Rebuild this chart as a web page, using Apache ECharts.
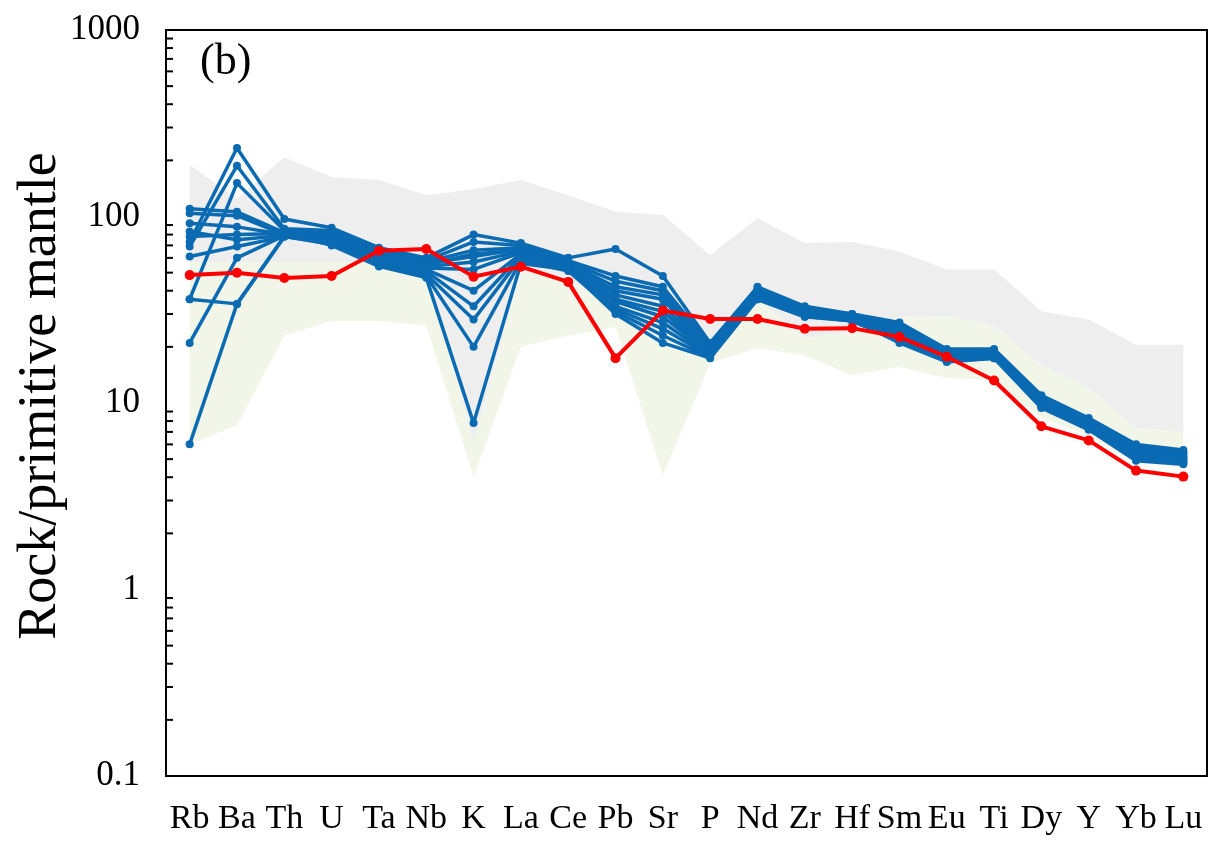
<!DOCTYPE html>
<html>
<head>
<meta charset="utf-8">
<script src="https://cdn.jsdelivr.net/npm/echarts@6/dist/echarts.min.js"></script>
<style>
html,body{margin:0;padding:0;background:#fff;}
#chart{width:1211px;height:844px;}
</style>
</head>
<body>
<div id="chart"></div>
<script>
const categories = ['Rb','Ba','Th','U','Ta','Nb','K','La','Ce','Pb','Sr','P','Nd','Zr','Hf','Sm','Eu','Ti','Dy','Y','Yb','Lu'];
const yTickValues = [0.1, 1, 10, 100, 1000];
const yTickLabels = ['0.1', '1', '10', '100', '1000'];
const yAxisTitle = 'Rock/primitive mantle';
const panelLabel = '(b)';
const minorTickValues = [0.2,0.3,0.4,0.5,0.6,0.7,0.8,0.9, 2,3,4,5,6,7,8,9, 20,30,40,50,60,70,80,90, 200,300,400,500,600,700,800,900];

// reference fields (envelopes)
const grayUpper = [189,125,208,163,157,130,140,157,130,106,102,62,98,72,73,65,52,52,31,28,20.5,20.5];
const grayLower = [57,57,57,57,57,55,6.1,51.6,45,38,24.5,19,36,22.3,24,29,29.4,26,16,12,7.4,7.0];
const greenUpper = [57,57,57,57,57,55,6.1,51.6,45,38,24.5,19,36,22.3,24,29,29.4,26,16,12,7.4,7.0];
const greenLower = [6.0,7.6,23,27.5,27.5,26,4.0,20,23,25.6,4.1,16.4,19.7,18,14.1,15.6,13.6,13.3,8.3,6.7,4.8,4.5];

// blue samples
const s1  = [73,233,97,87,68,60,80,72,60,67,48,21,42,33,30,27,19.5,19.5,11,8.3,6.0,5.6];
const s2  = [69,187,86,84,66,58,73,70,58,48,42,20.5,41,32,30,26,19,19,10.8,8.1,5.9,5.5];
const s3  = [36,151,84,82,64,57,66,68,57,45,40,20,40,32,29.5,25.5,18.5,19,10.6,8.0,5.8,5.4];
const s4  = [110,106,82,80,63,56,61,67,56,42,38,19.5,40,31,29,25,18.2,18.8,10.4,7.9,5.7,5.3];
const s5  = [104,101,80,78,62,55,63,66,55,40,36,19,39,31,29,24.5,18,18.5,10.2,7.8,5.6,5.2];
const s6  = [92,88,80,77,61,54,57,65,55,38,33,19,39,30.5,28.5,24,17.8,18.3,10.1,7.7,5.5,5.1];
const s7  = [83,75,79,76,60,53,52,64,54,36,31,18.5,38,30,28.5,23.5,17.5,18,10,7.6,5.4,5.1];
const s8  = [61,69,78,75,60,52,40,63,53,35,29,18.5,38,30,28,23,17.3,17.8,9.9,7.5,5.3,5.0];
const s9  = [21,60,79,74,58,51,33,62,53,33,27,18,37,29.5,28,22.5,17,17.6,9.7,7.4,5.2,4.9];
const s10 = [6,34,78,72,56,49,28,60,52,32,25,17.8,37,29.5,27.5,22,17,17.5,9.6,7.3,5.1,4.8];
const s11 = [36,34,78,71,55,48,20,58,51,31,23,17.5,36,29,27.5,21.5,16.8,17.4,9.5,7.2,5.0,4.8];
const s12 = [78,80,81,70,54,47,7.8,56,52,30,21,17.4,36,29,28,21,16.6,17.4,9.4,7.2,4.9,4.7];
const blueSamples = [s1,s2,s3,s4,s5,s6,s7,s8,s9,s10,s11,s12];

// red sample
const redSample = [48.5,50,46.8,48,65.6,67,47.6,53.8,44.6,17.4,31.3,28.2,28.2,25,25.2,22.6,17.7,13.2,7.5,6.3,4.34,4.03];

const FONT = '"Liberation Serif", "Times New Roman", serif';

function fieldSeries(upper, lower, color) {
  return {
    type: 'custom',
    silent: true,
    z: 1,
    data: [0],
    renderItem: function (params, api) {
      const pts = [];
      for (let i = 0; i < upper.length; i++) pts.push(api.coord([i, upper[i]]));
      for (let i = lower.length - 1; i >= 0; i--) pts.push(api.coord([i, lower[i]]));
      return { type: 'polygon', shape: { points: pts }, style: { fill: color, stroke: null } };
    }
  };
}

const series = [];
series.push(fieldSeries(greenUpper, greenLower, '#f2f6e9'));
series.push(fieldSeries(grayUpper, grayLower, '#eeeeee'));

blueSamples.forEach(function (s) {
  series.push({
    type: 'line', data: s, z: 3, silent: true,
    symbol: 'circle', symbolSize: 8,
    lineStyle: { color: '#0a6bb3', width: 3.5 },
    itemStyle: { color: '#0a6bb3' }
  });
});
series.push({
  type: 'line', data: redSample, z: 4, silent: true,
  symbol: 'circle', symbolSize: 10,
  lineStyle: { color: '#ff0000', width: 4 },
  itemStyle: { color: '#ff0000' }
});
// minor log ticks on left axis (inside)
series.push({
  type: 'custom', silent: true, z: 6,
  data: minorTickValues.map(function (v) { return [0, v]; }),
  renderItem: function (params, api) {
    const y = api.coord([0, api.value(1)])[1];
    const x0 = params.coordSys.x;
    return { type: 'line', shape: { x1: x0, y1: y, x2: x0 + 7, y2: y }, style: { stroke: '#000', lineWidth: 2 } };
  }
});

const chart = echarts.init(document.getElementById('chart'), null, { renderer: 'canvas' });
chart.setOption({
  animation: false,
  backgroundColor: '#ffffff',
  grid: { left: 166, top: 30, right: 4, bottom: 68, containLabel: false, outerBoundsMode: 'none', show: true, borderColor: '#000', borderWidth: 2, backgroundColor: 'transparent' },
  xAxis: {
    type: 'category', data: categories, boundaryGap: true,
    axisLine: { lineStyle: { color: '#000', width: 2 } },
    axisTick: { inside: true, alignWithLabel: true, length: 8, lineStyle: { color: '#000', width: 1.5 } },
    axisLabel: { color: '#000', fontFamily: FONT, fontSize: 34, margin: 26, interval: 0 },
    splitLine: { show: false }, z: 10
  },
  yAxis: {
    type: 'log', logBase: 10, min: 0.1, max: 1000,
    axisLine: { show: true, lineStyle: { color: '#000', width: 2 } },
    axisTick: { inside: true, length: 13, lineStyle: { color: '#000', width: 2 } },
    axisLabel: {
      color: '#000', fontFamily: FONT, fontSize: 35, margin: 26,
      formatter: function (v) {
        const idx = yTickValues.findIndex(function (t) { return Math.abs(Math.log10(t) - Math.log10(v)) < 1e-6; });
        return idx >= 0 ? yTickLabels[idx] : '';
      }
    },
    splitLine: { show: false },
    z: 10
  },
  graphic: [{
    type: 'text', left: 200, top: 40, z: 20,
    style: { text: panelLabel, fontFamily: FONT, fontSize: 44, fill: '#000' }
  }, {
    type: 'text', x: 41, y: 396, rotation: Math.PI / 2, z: 20,
    style: { text: yAxisTitle, fontFamily: FONT, fontSize: 54, fill: '#000', textAlign: 'center', textVerticalAlign: 'middle' }
  }],
  series: series
});
</script>
</body>
</html>
